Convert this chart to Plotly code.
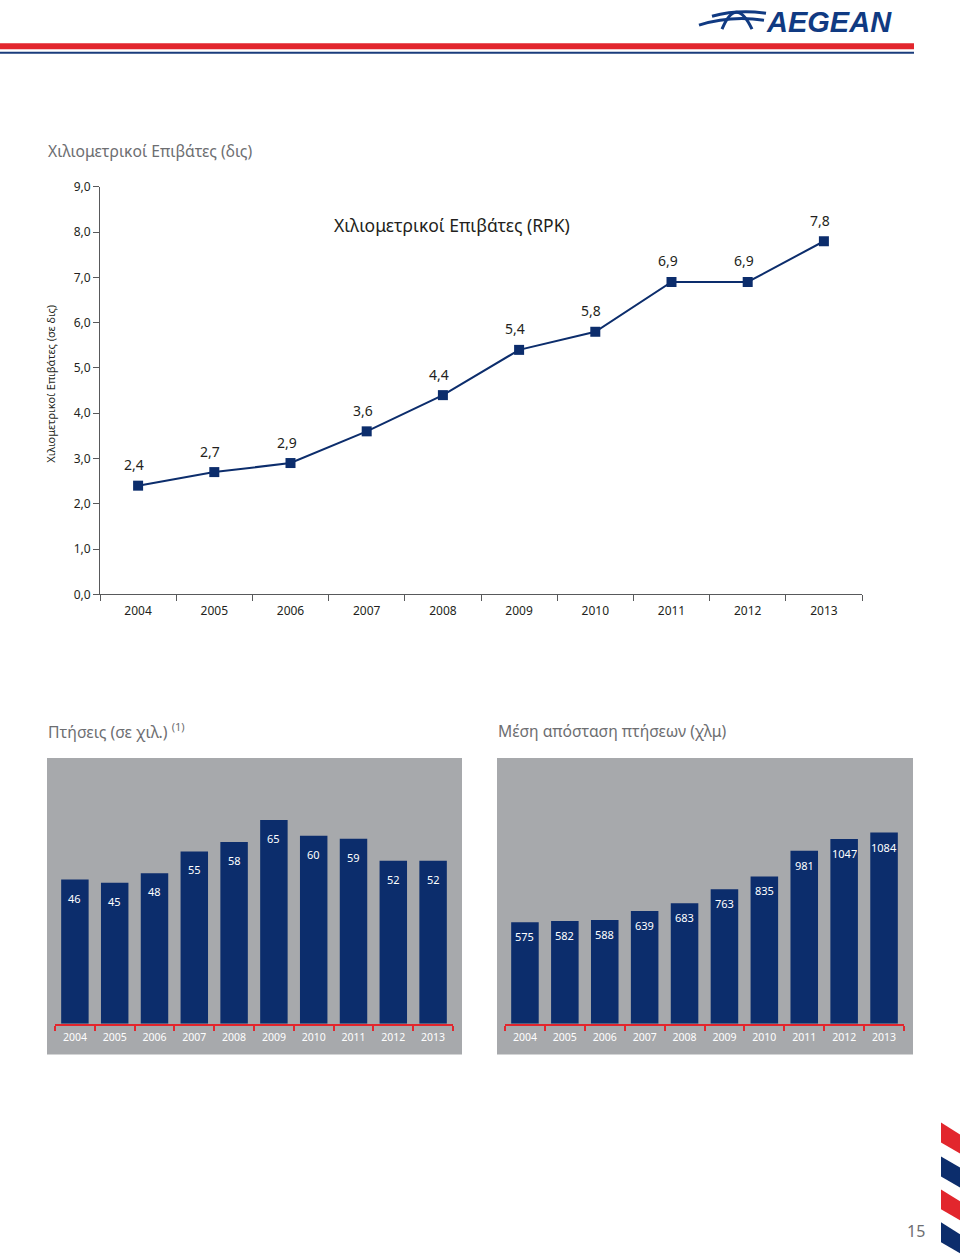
import plotly.graph_objects as go

# ---------------- data ----------------
years = ["2004", "2005", "2006", "2007", "2008", "2009", "2010", "2011", "2012", "2013"]
rpk_bn = [2.4, 2.7, 2.9, 3.6, 4.4, 5.4, 5.8, 6.9, 6.9, 7.8]
flights_k = [46, 45, 48, 55, 58, 65, 60, 59, 52, 52]
avg_distance_km = [575, 582, 588, 639, 683, 763, 835, 981, 1047, 1084]

W, H = 960, 1258
NAVY = "#0c2d6c"
RED = "#e2262d"
GRAY_PANEL = "#a7a9ac"
TXT = "#231f20"
TXT_GRAY = "#6d6e71"
FONT = "Noto Sans"

# vertical calibration of the rendering pipeline (observed: out = 7.8 + 0.988 * set)
V_OFF, V_SC = 7.8, 0.988


def px(x):
    return x / W


def py(y):
    return 1 - ((y - V_OFF) / V_SC) / H


def path(points):
    return "M " + " L ".join(f"{px(x):.5f},{py(y):.5f}" for x, y in points) + " Z"


fig = go.Figure()

# line chart
fig.add_trace(go.Scatter(
    x=years, y=rpk_bn, mode="lines+markers",
    line=dict(color=NAVY, width=2),
    marker=dict(symbol="square", size=10, color=NAVY),
    xaxis="x", yaxis="y", showlegend=False, hoverinfo="skip",
))

# bar charts
fig.add_trace(go.Bar(
    x=years, y=flights_k, marker=dict(color=NAVY, line=dict(width=0)),
    xaxis="x2", yaxis="y2", showlegend=False, hoverinfo="skip",
))
fig.add_trace(go.Bar(
    x=years, y=avg_distance_km, marker=dict(color=NAVY, line=dict(width=0)),
    xaxis="x3", yaxis="y3", showlegend=False, hoverinfo="skip",
))

annotations = []
# line data labels (category axes: use the category index)
for i, v in enumerate(rpk_bn):
    annotations.append(dict(
        x=i, y=v, xref="x", yref="y", text=f"{v:.1f}".replace(".", ","),
        showarrow=False, yshift=21, xshift=-4,
        font=dict(family=FONT, size=14, color=TXT),
    ))
# bar labels
for i, v in enumerate(flights_k):
    annotations.append(dict(
        x=i, y=v, xref="x2", yref="y2", text=str(v), showarrow=False,
        yanchor="top", yshift=-9, font=dict(family=FONT, size=11, color="white"),
    ))
for i, v in enumerate(avg_distance_km):
    annotations.append(dict(
        x=i, y=v, xref="x3", yref="y3", text=str(v), showarrow=False,
        yanchor="top", yshift=-5, font=dict(family=FONT, size=11, color="white"),
    ))

# texts
annotations += [
    dict(x=px(46), y=py(150), xref="paper", yref="paper", xanchor="left", yanchor="middle",
         text="Χιλιομετρικοί Επιβάτες (δις)", showarrow=False,
         font=dict(family=FONT, size=15.7, color=TXT_GRAY)),
    dict(x=px(452), y=py(224), xref="paper", yref="paper", xanchor="center", yanchor="middle",
         text="Χιλιομετρικοί Επιβάτες (RPK)", showarrow=False,
         font=dict(family=FONT, size=17.5, color=TXT)),
    dict(x=px(51), y=py(383), xref="paper", yref="paper", xanchor="center", yanchor="middle",
         text="Χιλιομετρικοί Επιβάτες (σε δις)", textangle=-90, showarrow=False,
         font=dict(family=FONT, size=11, color=TXT)),
    dict(x=px(46), y=py(731), xref="paper", yref="paper", xanchor="left", yanchor="middle",
         text="Πτήσεις (σε χιλ.) <sup>(1)</sup>", showarrow=False,
         font=dict(family=FONT, size=15.8, color=TXT_GRAY)),
    dict(x=px(496), y=py(731), xref="paper", yref="paper", xanchor="left", yanchor="middle",
         text="Μέση απόσταση πτήσεων (χλμ)", showarrow=False,
         font=dict(family=FONT, size=15.7, color=TXT_GRAY)),
    dict(x=px(916), y=py(1232), xref="paper", yref="paper", xanchor="center", yanchor="middle",
         text="15", showarrow=False, font=dict(family=FONT, size=16, color=TXT_GRAY)),
    dict(x=px(829), y=py(21), xref="paper", yref="paper", xanchor="center", yanchor="middle",
         text="<b><i>AEGEAN</i></b>", showarrow=False,
         font=dict(family="Liberation Sans", size=29, color="#103a82")),
]

shapes = [
    # header lines
    dict(type="rect", xref="paper", yref="paper", x0=0, x1=px(914), y0=py(48), y1=py(42),
         fillcolor=RED, line=dict(width=0), layer="below"),
    dict(type="rect", xref="paper", yref="paper", x0=0, x1=px(914), y0=py(52.5), y1=py(50.5),
         fillcolor="#1a3c7c", line=dict(width=0), layer="below"),
    # gray panels
    dict(type="rect", xref="paper", yref="paper", x0=px(47), x1=px(462), y0=py(1055), y1=py(758),
         fillcolor=GRAY_PANEL, line=dict(width=0), layer="below"),
    dict(type="rect", xref="paper", yref="paper", x0=px(497), x1=px(913), y0=py(1055), y1=py(758),
         fillcolor=GRAY_PANEL, line=dict(width=0), layer="below"),
    # logo emblem (approximation)
    dict(type="path", xref="paper", yref="paper",
         path=f"M {px(722):.5f},{py(28):.5f} Q {px(736):.5f},{py(-6):.5f} {px(752):.5f},{py(28):.5f}",
         line=dict(color="#103a82", width=3)),
    dict(type="path", xref="paper", yref="paper",
         path=f"M {px(699):.5f},{py(24):.5f} Q {px(730):.5f},{py(14):.5f} {px(764):.5f},{py(19):.5f}",
         line=dict(color="#103a82", width=3)),
    dict(type="path", xref="paper", yref="paper",
         path=f"M {px(712):.5f},{py(15):.5f} Q {px(738):.5f},{py(8):.5f} {px(766):.5f},{py(12):.5f}",
         line=dict(color="#103a82", width=3)),
    # bottom-right stripes
    dict(type="path", xref="paper", yref="paper",
         path=path([(941, 1123), (960, 1135), (960, 1154), (941, 1143)]),
         fillcolor=RED, line=dict(width=0)),
    dict(type="path", xref="paper", yref="paper",
         path=path([(941, 1157), (960, 1168), (960, 1188), (941, 1177)]),
         fillcolor=NAVY, line=dict(width=0)),
    dict(type="path", xref="paper", yref="paper",
         path=path([(941, 1190), (960, 1202), (960, 1221), (941, 1210)]),
         fillcolor=RED, line=dict(width=0)),
    dict(type="path", xref="paper", yref="paper",
         path=path([(941, 1223), (960, 1235), (960, 1254), (941, 1243)]),
         fillcolor=NAVY, line=dict(width=0)),
]

fig.update_layout(
    width=W, height=H, margin=dict(l=0, r=0, t=0, b=0),
    paper_bgcolor="white", plot_bgcolor="rgba(0,0,0,0)",
    separators=",.", bargap=0.31,
    font=dict(family=FONT, color=TXT),
    annotations=annotations, shapes=shapes,
    xaxis=dict(domain=[px(100), px(862)], anchor="y", type="category",
               range=[-0.5, 9.5],
               showline=True, linecolor="#58595b", linewidth=1,
               ticks="outside", tickson="boundaries", ticklen=6, tickcolor="#58595b",
               ticklabelstandoff=5,
               tickfont=dict(family=FONT, size=12, color=TXT), showgrid=False, fixedrange=True),
    yaxis=dict(domain=[py(594), py(186)], anchor="x", range=[0, 9], dtick=1, tickformat=".1f",
               showline=True, linecolor="#58595b", linewidth=1,
               ticks="outside", ticklen=6, tickcolor="#58595b",
               tickfont=dict(family=FONT, size=12, color=TXT),
               showgrid=False, zeroline=False, fixedrange=True),
    xaxis2=dict(domain=[px(55), px(453)], anchor="y2", type="category",
                range=[-0.5, 9.5],
                showline=True, linecolor=RED, linewidth=2,
                ticks="outside", tickson="boundaries", ticklen=5, tickcolor=RED, tickwidth=1.5,
                ticklabelstandoff=3,
                tickfont=dict(family=FONT, size=10.5, color="white"), showgrid=False, fixedrange=True),
    yaxis2=dict(domain=[py(1024), py(758)], anchor="x2", range=[0, 84.8], visible=False,
                fixedrange=True),
    xaxis3=dict(domain=[px(505), px(904)], anchor="y3", type="category",
                range=[-0.5, 9.5],
                showline=True, linecolor=RED, linewidth=2,
                ticks="outside", tickson="boundaries", ticklen=5, tickcolor=RED, tickwidth=1.5,
                ticklabelstandoff=3,
                tickfont=dict(family=FONT, size=10.5, color="white"), showgrid=False, fixedrange=True),
    yaxis3=dict(domain=[py(1024), py(758)], anchor="x3", range=[0, 1507], visible=False,
                fixedrange=True),
)

fig.write_html(
    "out.html",
    post_script=(
        "document.documentElement.style.margin='0';"
        "document.documentElement.style.padding='0';"
        "document.documentElement.style.overflow='hidden';"
        "document.body.style.margin='0';"
        "document.body.style.padding='0';"
        "document.body.style.overflow='hidden';"
    ),
)
